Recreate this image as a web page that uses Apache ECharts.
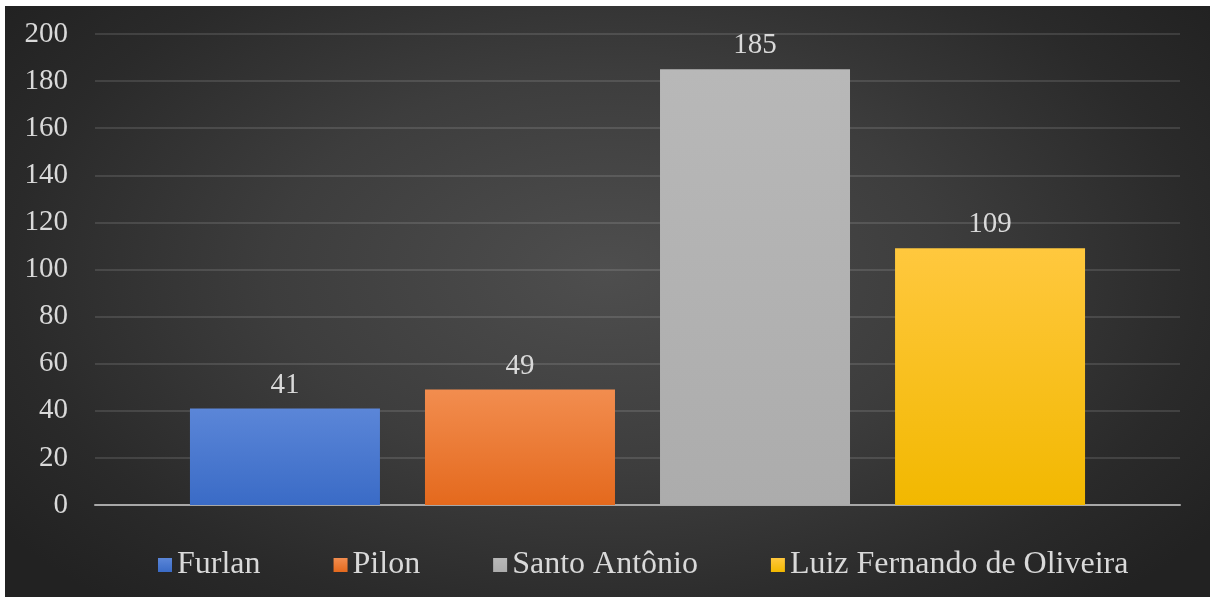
<!DOCTYPE html>
<html>
<head>
<meta charset="utf-8">
<script src="https://cdn.jsdelivr.net/npm/echarts@6/dist/echarts.min.js"></script>
<style>
  html, body { margin: 0; padding: 0; background: #ffffff; width: 1210px; height: 597px; overflow: hidden; }
  #chart {
    position: absolute; left: 5px; top: 6px; width: 1205px; height: 591px;
    background: radial-gradient(ellipse 62% 75% at 50% 45%, #4e4e4e 0%, #3d3d3d 45%, #2a2a2a 80%, #222222 100%);
  }
</style>
</head>
<body>
<div id="chart"></div>
<script>
// Quantidade por bairro
const seriesNames = ['Furlan', 'Pilon', 'Santo Antônio', 'Luiz Fernando de Oliveira'];
const seriesValues = [41, 49, 185, 109];
const yTicks = { min: 0, max: 200, interval: 20 };

const fills = [
  ['#5b86d8', '#3a6bc6'],
  ['#f28d4f', '#e4691d'],
  ['#b8b8b8', '#acacac'],
  ['#ffc83e', '#f2b800']
];
const swatches = ['#4a7bd6', '#ee7a33', '#b0b0b0', '#ffc000'];

const font = '"Liberation Serif", "Times New Roman", serif';

const chart = echarts.init(document.getElementById('chart'), null, { renderer: 'canvas' });

const series = seriesNames.map((name, i) => ({
  name,
  type: 'bar',
  data: [seriesValues[i]],
  barWidth: 190,
  barGap: '23.7%',
  itemStyle: {
    color: {
      type: 'linear', x: 0, y: 0, x2: 0, y2: 1,
      colorStops: [{ offset: 0, color: fills[i][0] }, { offset: 1, color: fills[i][1] }]
    }
  },
  label: {
    show: true,
    position: 'top',
    distance: 9,
    color: '#d9d9d9',
    fontFamily: font,
    fontSize: 29
  }
}));

chart.setOption({
  backgroundColor: 'transparent',
  animation: false,
  color: swatches,
  grid: { left: 90, right: 30, top: 28, bottom: 92, containLabel: false },
  legend: {
    bottom: 11,
    left: 148,
    itemWidth: 14,
    itemHeight: 14,
    itemGap: 73,
    icon: 'rect',
    textStyle: { color: '#d9d9d9', fontFamily: font, fontSize: 32 },
    data: seriesNames
  },
  xAxis: {
    type: 'category',
    data: [''],
    axisLine: { lineStyle: { color: '#a8a8a8', width: 2 } },
    axisTick: { show: false },
    axisLabel: { show: false }
  },
  yAxis: {
    type: 'value',
    min: yTicks.min,
    max: yTicks.max,
    interval: yTicks.interval,
    axisLine: { show: false },
    axisTick: { show: false },
    axisLabel: { color: '#d9d9d9', fontFamily: font, fontSize: 29, margin: 27 },
    splitLine: { lineStyle: { color: 'rgba(255,255,255,0.16)', width: 1.5 } }
  },
  series
});
</script>
</body>
</html>
